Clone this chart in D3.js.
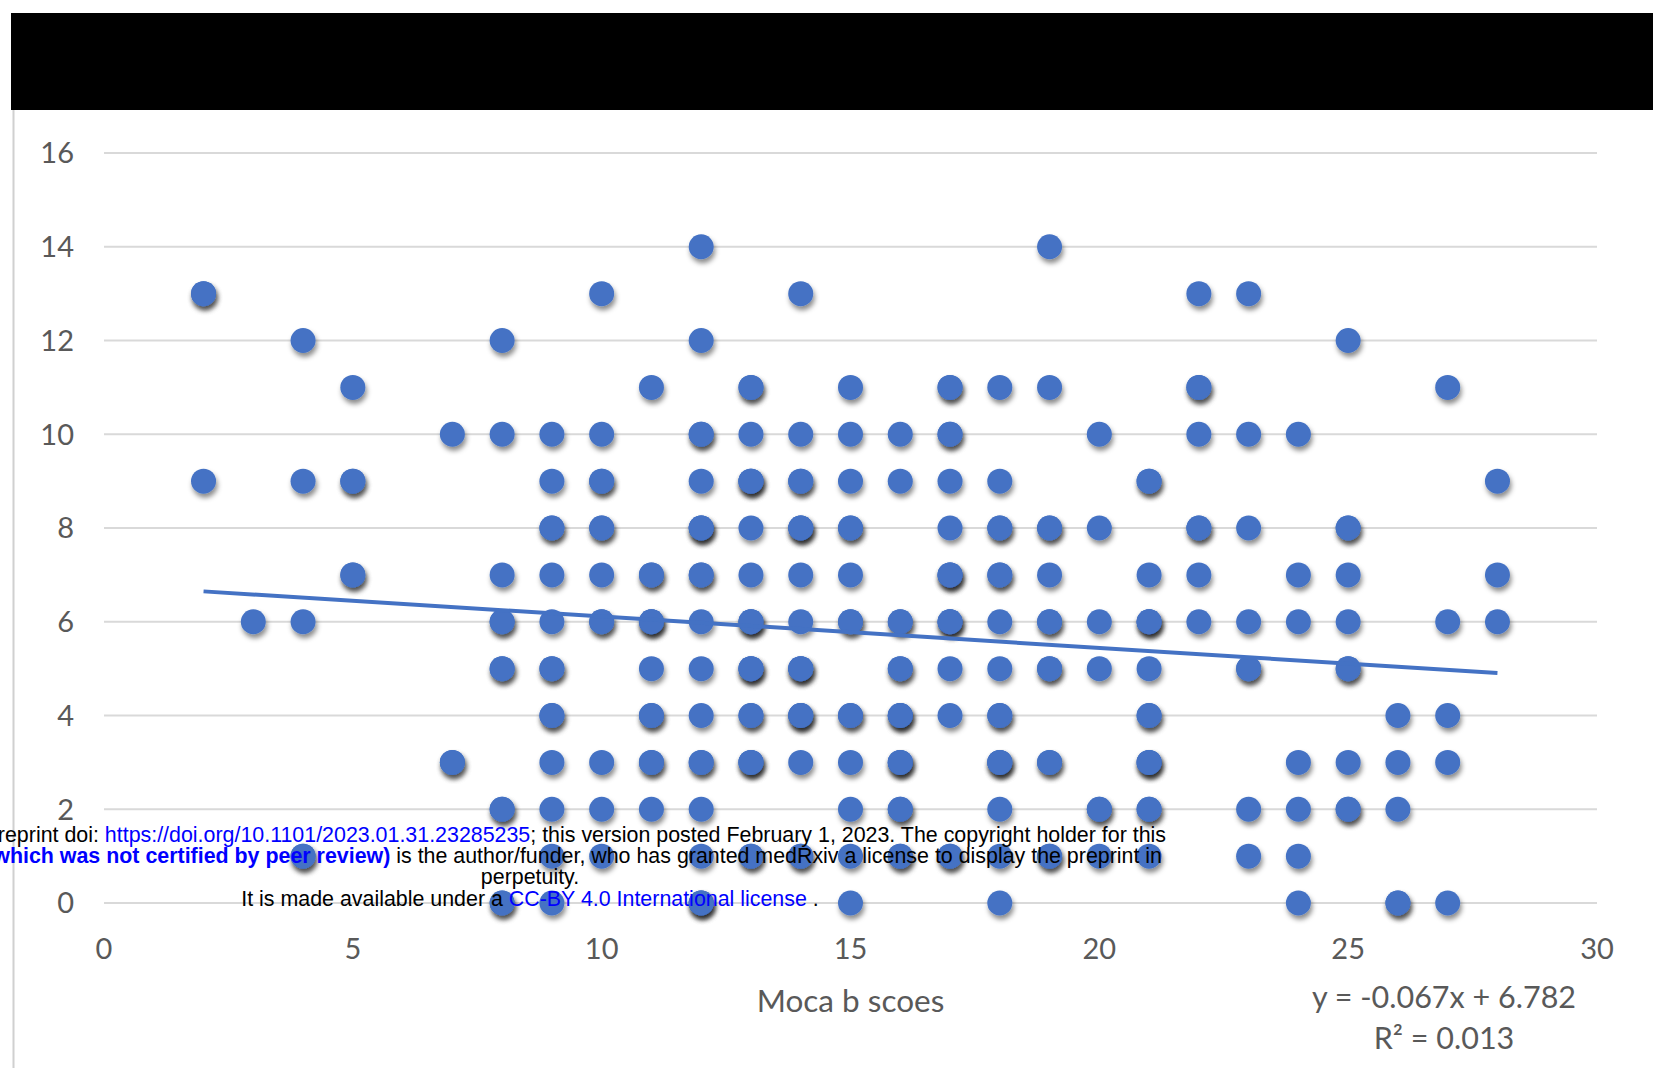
<!DOCTYPE html>
<html lang="en">

<head>
    <title>Moca b scoes scatter</title>
    <style>
        body {
            margin: 0;
            padding: 0;
            overflow: hidden;
            background: #fff;
        }

        .grid line {
            stroke: #d9d9d9;
            stroke-width: 2px;
        }

        .tick-label {
            font-family: Lato, "Open Sans", sans-serif;
            font-size: 29px;
            fill: #595959;
        }

        .note {
            font-family: "Liberation Sans", Arial, sans-serif;
            font-size: 21.4px;
            fill: #000;
        }
    </style>
    <script src="https://cdn.jsdelivr.net/npm/d3@7"></script>
</head>

<body>

<script>

// y levels (top to bottom) and the moca b score of every point on that level
// repeated x = several patients on the same spot (darker shadow)
var yLevels = [14, 13, 12, 11, 10, 9, 8, 7, 6, 5, 4, 3, 2, 1, 0];
var mocaByLevel = [
  [12, 19],
  [2, 2, 10, 14, 22, 23],
  [4, 8, 12, 25],
  [5, 11, 13, 13, 15, 17, 17, 18, 19, 22, 22, 27],
  [7, 8, 9, 10, 12, 12, 13, 14, 15, 16, 17, 17, 20, 22, 23, 24],
  [2, 4, 5, 5, 9, 10, 10, 12, 13, 13, 13, 14, 14, 15, 16, 17, 18, 21, 21, 28],
  [9, 9, 10, 10, 12, 12, 12, 13, 14, 14, 14, 15, 15, 17, 18, 18, 19, 19, 20, 22, 22, 23, 25, 25],
  [5, 5, 8, 9, 10, 11, 11, 12, 12, 13, 14, 15, 17, 17, 17, 18, 18, 19, 21, 22, 24, 25, 28],
  [3, 4, 8, 8, 9, 10, 10, 11, 11, 11, 12, 13, 13, 13, 14, 15, 15, 16, 16, 17, 17, 17, 18, 19, 19, 20, 21, 21, 21, 22, 23, 24, 25, 27, 28],
  [8, 8, 9, 9, 11, 12, 13, 13, 13, 14, 14, 14, 16, 16, 17, 18, 19, 19, 20, 21, 23, 23, 25, 25],
  [9, 9, 11, 11, 12, 13, 13, 14, 14, 14, 15, 15, 16, 16, 16, 17, 18, 18, 21, 21, 26, 27],
  [7, 7, 9, 10, 11, 11, 12, 12, 13, 13, 13, 14, 15, 16, 16, 16, 18, 18, 18, 19, 19, 21, 21, 21, 24, 25, 26, 27],
  [8, 8, 9, 10, 11, 12, 15, 16, 16, 18, 20, 20, 21, 21, 23, 24, 25, 25, 26],
  [4, 4, 9, 10, 12, 13, 13, 14, 14, 15, 16, 16, 17, 17, 18, 19, 19, 20, 21, 23, 24],
  [8, 8, 9, 12, 12, 12, 15, 18, 24, 26, 26, 27]
];

var xTicks = [0, 5, 10, 15, 20, 25, 30];
var yTicks = [0, 2, 4, 6, 8, 10, 12, 14, 16];
var xTitle = "Moca b scoes";
var trendSlope = -0.067;
var trendIntercept = 6.782;
var trendLabel = "y = -0.067x + 6.782";
var r2Label = "R\u00b2 = 0.013";

var points = [];
for (var i = 0; i < yLevels.length; i++) {
  for (var j = 0; j < mocaByLevel[i].length; j++) {
    points.push({x: mocaByLevel[i][j], y: yLevels[i]});
  }
}

var W = 1653, H = 1068;

svg = d3.select('body').append('svg')
    .attr('width', W)
    .attr('height', H)
    .attr("id", "chart");

svg.append('rect')
    .attr('width', W).attr('height', H)
    .attr('fill', '#fff');

var defs = svg.append('defs');
defs.append('filter')
    .attr('id', 'dotShadow')
    .attr('x', '-50%').attr('y', '-50%')
    .attr('width', '200%').attr('height', '220%')
  .append('feDropShadow')
    .attr('dx', 1.5)
    .attr('dy', 4)
    .attr('stdDeviation', 2.8)
    .attr('flood-color', '#000')
    .attr('flood-opacity', 0.45);

// black band on top + left frame line
svg.append('rect')
    .attr('x', 11).attr('y', 13)
    .attr('width', W - 11).attr('height', 97)
    .attr('fill', '#000');

svg.append('line')
    .attr('x1', 13.5).attr('x2', 13.5)
    .attr('y1', 110).attr('y2', H)
    .attr('stroke', '#d0d0d0')
    .attr('stroke-width', 2);

var x = d3.scaleLinear().domain([0, 30]).range([104, 1597]);
var y = d3.scaleLinear().domain([0, 16]).range([903, 153]);

// gridlines
svg.append('g')
    .attr('class', 'grid')
    .selectAll('line')
    .data(yTicks)
    .enter().append('line')
    .attr('x1', x(0)).attr('x2', x(30))
    .attr('y1', function(d) { return y(d); })
    .attr('y2', function(d) { return y(d); });

// y tick labels
svg.append('g')
    .selectAll('text')
    .data(yTicks)
    .enter().append('text')
    .attr('class', 'tick-label')
    .attr('x', 74)
    .attr('y', function(d) { return y(d); })
    .attr('text-anchor', 'end')
    .attr('dy', '0.36em')
    .text(function(d) { return d; });

// x tick labels
svg.append('g')
    .selectAll('text')
    .data(xTicks)
    .enter().append('text')
    .attr('class', 'tick-label')
    .attr('x', function(d) { return x(d); })
    .attr('y', 949)
    .attr('text-anchor', 'middle')
    .attr('dy', '0.36em')
    .text(function(d) { return d; });

svg.append('text')
    .attr('class', 'tick-label')
    .attr('x', x(15))
    .attr('y', 1001)
    .attr('text-anchor', 'middle')
    .attr('dy', '0.36em')
    .style('font-size', '31.5px')
    .text(xTitle);

// points
svg.append('g')
    .selectAll('circle')
    .data(points)
    .enter().append('circle')
    .attr('cx', function(d) { return x(d.x); })
    .attr('cy', function(d) { return y(d.y); })
    .attr('r', 12.5)
    .attr('fill', '#4472c4')
    .attr('filter', 'url(#dotShadow)');

// linear trendline over the data range
var xExt = d3.extent(points, function(d) { return d.x; });
svg.append('line')
    .attr('x1', x(xExt[0]))
    .attr('y1', y(trendSlope * xExt[0] + trendIntercept))
    .attr('x2', x(xExt[1]))
    .attr('y2', y(trendSlope * xExt[1] + trendIntercept))
    .attr('stroke', '#4472c4')
    .attr('stroke-width', 4);

svg.append('text')
    .attr('class', 'tick-label')
    .attr('x', 1444).attr('y', 997)
    .attr('text-anchor', 'middle')
    .attr('dy', '0.36em')
    .style('font-size', '30.5px')
    .text(trendLabel);

svg.append('text')
    .attr('class', 'tick-label')
    .attr('x', 1444).attr('y', 1038)
    .attr('text-anchor', 'middle')
    .attr('dy', '0.36em')
    .style('font-size', '30.5px')
    .text(r2Label);

// medRxiv stamp over the plot
var noteLines = [
  [["preprint doi: ", "#000", "normal"], ["https://doi.org/10.1101/2023.01.31.23285235", "#0000ff", "normal"], ["; this version posted February 1, 2023. The copyright holder for this", "#000", "normal"]],
  [["(which was not certified by peer review)", "#0000ff", "bold"], [" is the author/funder, who has granted medRxiv a license to display the preprint in", "#000", "normal"]],
  [["perpetuity.", "#000", "normal"]],
  [["It is made available under a ", "#000", "normal"], ["CC-BY 4.0 International license", "#0000ff", "normal"], [" .", "#000", "normal"]]
];
var noteY = [842, 863, 884, 906];
var noteX = [1166, 1162, 530, 530];
var noteAnchor = ['end', 'end', 'middle', 'middle'];

var note = svg.append('g');
noteLines.forEach(function(parts, k) {
  var t = note.append('text')
      .attr('class', 'note')
      .attr('x', noteX[k])
      .attr('y', noteY[k])
      .attr('text-anchor', noteAnchor[k]);
  parts.forEach(function(p) {
    t.append('tspan')
        .attr('fill', p[1])
        .attr('font-weight', p[2])
        .text(p[0]);
  });
});

</script>

</body>
</html>
